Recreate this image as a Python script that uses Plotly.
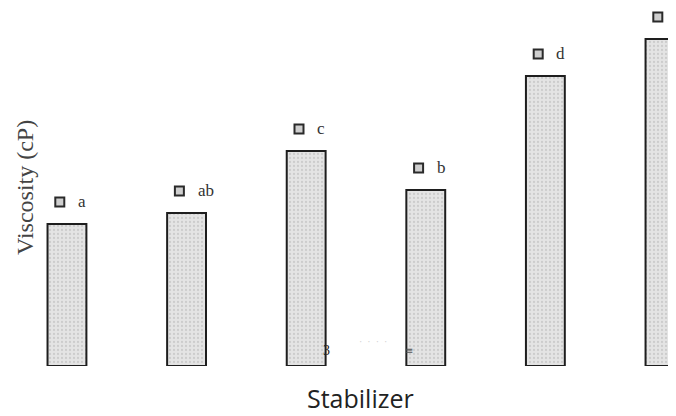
import plotly.graph_objects as go

categories = ["S1", "S2", "S3", "S4", "S5", "S6"]
viscosity = [14.2, 15.3, 21.5, 17.6, 29.0, 32.7]
letters = ["a", "ab", "c", "b", "d", "e"]

x_idx = list(range(len(categories)))
label_gap = 2.2  # data units above bar top

W, H = 676, 416
PLOT_H = 358  # plot area height in px

fig = go.Figure()
fig.add_trace(go.Bar(
    x=x_idx, y=viscosity, width=0.325,
    marker=dict(color="#e4e4e4",
                line=dict(color="#1e1e1e", width=2),
                pattern=dict(shape=".", fgcolor="#b4b4b4", bgcolor="#e4e4e4", size=4, solidity=0.25)),
    hoverinfo="skip", showlegend=False,
))
fig.add_trace(go.Scatter(
    x=[i - 0.06 for i in x_idx], y=[v + label_gap for v in viscosity],
    mode="markers",
    marker=dict(symbol="square", size=9, color="#cfcfcf", line=dict(color="#2a2a2a", width=2)),
    hoverinfo="skip", showlegend=False, cliponaxis=False,
))
for i, v, l in zip(x_idx, viscosity, letters):
    fig.add_annotation(x=i, y=v + label_gap, text=l, showarrow=False,
                       xanchor="left", yanchor="middle", xshift=9, yshift=1,
                       font=dict(family="Liberation Serif", size=17, color="#333"))

# axis titles
fig.add_annotation(xref="paper", yref="paper", x=17/W, y=(PLOT_H-180)/PLOT_H,
                   text="Viscosity (cP)", textangle=-90, showarrow=False,
                   xanchor="center", yanchor="middle",
                   font=dict(family="Liberation Serif", size=24, color="#444"))
fig.add_annotation(xref="paper", yref="paper", x=352/W, y=(PLOT_H-390)/PLOT_H,
                   text="Stabilizer", showarrow=False, xanchor="center", yanchor="middle",
                   font=dict(family="Open Sans", size=25, color="#222"))

# faint scan remnants near the base of bars 3 and 4
fig.add_annotation(xref="paper", yref="paper", x=318/W, y=(PLOT_H-342)/PLOT_H,
                   text="3", showarrow=False, xanchor="center", yanchor="middle",
                   font=dict(family="Liberation Serif", size=14, color="#222"))
fig.add_annotation(xref="paper", yref="paper", x=365/W, y=(PLOT_H-333)/PLOT_H,
                   text="·  ·  ·  ·", showarrow=False, xanchor="center", yanchor="middle",
                   font=dict(family="Liberation Serif", size=10, color="#d0d0d0"))
fig.add_annotation(xref="paper", yref="paper", x=401/W, y=(PLOT_H-342)/PLOT_H,
                   text="≡", showarrow=False, xanchor="center", yanchor="middle",
                   font=dict(family="DejaVu Sans", size=10, color="#555"))

fig.update_layout(
    width=W, height=H,
    margin=dict(l=0, r=0, t=0, b=H - PLOT_H),
    paper_bgcolor="white", plot_bgcolor="white",
    xaxis=dict(range=[-0.493, 5.159], showticklabels=False, showgrid=False, zeroline=False,
               showline=False, ticks=""),
    yaxis=dict(range=[0, 35.8], showticklabels=False, showgrid=False, zeroline=False,
               showline=False, ticks=""),
)
fig.write_html("out.html")
